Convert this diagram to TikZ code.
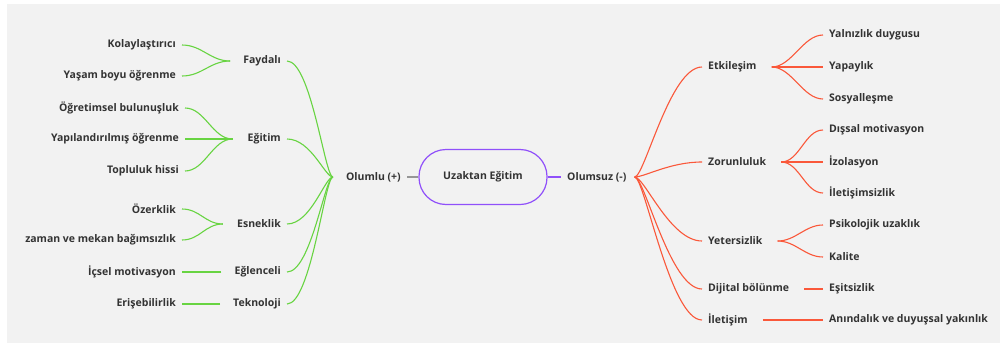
\documentclass[tikz,border=0pt]{standalone}
\usepackage{fontspec}
\setmainfont{Open Sans}
\usetikzlibrary{calc,positioning}
\definecolor{zemin}{RGB}{242,242,242}
\definecolor{yesil}{RGB}{104,212,66}
\definecolor{kirmizi}{RGB}{250,88,58}
\definecolor{mor}{RGB}{144,80,250}
\definecolor{yazi}{RGB}{51,51,51}
\definecolor{gri}{RGB}{150,150,150}

\begin{document}
\begin{tikzpicture}[x=1pt,y=-1pt,
    every node/.style={font=\bfseries\fontsize{10.5}{12.5}\selectfont,text=yazi,inner xsep=6pt,inner ysep=2pt},
    sol/.style={anchor=east},
    sag/.style={anchor=west},
    olumluhat/.style={draw=yesil,line width=1.1pt},
    olumsuzhat/.style={draw=kirmizi,line width=1.1pt}]

    %Zemin
    \fill[zemin] (7,4) rectangle (1000,343);
    \useasboundingbox (0,0) rectangle (1001,343);

    %Merkez
    \node[draw=mor,line width=1.2pt,rounded corners=27pt,minimum width=128pt,minimum height=55pt] (merkez) at (483,177) {Uzaktan Eğitim};
    \node[sol] (olumlu) at (407,177) {Olumlu (+)};
    \node[sag] (olumsuz) at (561,177) {Olumsuz (-)};
    \draw[gri,line width=1.1pt] (olumlu) -- (merkez);
    \draw[mor,line width=1.1pt] (merkez) -- (olumsuz);
    \coordinate (olumlu_j) at ($(olumlu.west)+(-7,0)$);
    \coordinate (olumsuz_j) at ($(olumsuz.east)+(2,0)$);

    %Olumlu dallar
    \node[sol] (faydali) at (287,61) {Faydalı};
    \node[sol] (egitim) at (287,139) {Eğitim};
    \node[sol] (esneklik) at (287,224) {Esneklik};
    \node[sol] (eglenceli) at (287,272) {Eğlenceli};
    \node[sol] (teknoloji) at (287,304) {Teknoloji};

    \draw[olumluhat] (olumlu_j) .. controls +(-8,0) and +(24,0) .. (faydali.east);
    \draw[olumluhat] (olumlu_j) .. controls +(-8,0) and +(24,0) .. (egitim.east);
    \draw[olumluhat] (olumlu_j) .. controls +(-8,0) and +(24,0) .. (esneklik.east);
    \draw[olumluhat] (olumlu_j) .. controls +(-8,0) and +(24,0) .. (eglenceli.east);
    \draw[olumluhat] (olumlu_j) .. controls +(-8,0) and +(24,0) .. (teknoloji.east);

    \coordinate (faydali_j) at ($(faydali.west)+(-7,0)$);
    \coordinate (egitim_j) at ($(egitim.west)+(-9,0)$);
    \coordinate (esneklik_j) at ($(esneklik.west)+(-8,0)$);
    \coordinate (eglenceli_j) at ($(eglenceli.west)+(-7,0)$);
    \coordinate (teknoloji_j) at ($(teknoloji.west)+(-7,0)$);

    %Olumlu alt dallar
    \node[sol] (kolay) at (182,45) {Kolaylaştırıcı};
    \node[sol] (yasam) at (182,76) {Yaşam boyu öğrenme};
    \node[sol] (ogretimsel) at (185,108) {Öğretimsel bulunuşluk};
    \node[sol] (yapilandirilmis) at (185,139) {Yapılandırılmış öğrenme};
    \node[sol] (topluluk) at (185,171) {Topluluk hissi};
    \node[sol] (ozerklik) at (182,209) {Özerklik};
    \node[sol] (zaman) at (182,240) {zaman ve mekan bağımsızlık};
    \node[sol] (icsel) at (182,272) {İçsel motivasyon};
    \node[sol] (erisebilirlik) at (182,304) {Erişebilirlik};

    \draw[olumluhat] (faydali_j) .. controls +(-20,0) and +(20,0) .. (kolay.east);
    \draw[olumluhat] (faydali_j) .. controls +(-20,0) and +(20,0) .. (yasam.east);
    \draw[olumluhat] (egitim_j) .. controls +(-20,0) and +(20,0) .. (ogretimsel.east);
    \draw[olumluhat] (egitim_j) -- (yapilandirilmis.east);
    \draw[olumluhat] (egitim_j) .. controls +(-20,0) and +(20,0) .. (topluluk.east);
    \draw[olumluhat] (esneklik_j) .. controls +(-18,0) and +(18,0) .. (ozerklik.east);
    \draw[olumluhat] (esneklik_j) .. controls +(-18,0) and +(18,0) .. (zaman.east);
    \draw[olumluhat] (eglenceli_j) -- (icsel.east);
    \draw[olumluhat] (teknoloji_j) -- (erisebilirlik.east);

    %Olumsuz dallar
    \node[sag] (etkilesim) at (702,67) {Etkileşim};
    \node[sag] (zorunluluk) at (702,162) {Zorunluluk};
    \node[sag] (yetersizlik) at (702,241) {Yetersizlik};
    \node[sag] (dijital) at (702,289) {Dijital bölünme};
    \node[sag] (iletisim) at (702,320) {İletişim};

    \draw[olumsuzhat] (olumsuz_j) .. controls +(10,0) and +(-32,0) .. (etkilesim.west);
    \draw[olumsuzhat] (olumsuz_j) .. controls +(10,0) and +(-32,0) .. (zorunluluk.west);
    \draw[olumsuzhat] (olumsuz_j) .. controls +(10,0) and +(-32,0) .. (yetersizlik.west);
    \draw[olumsuzhat] (olumsuz_j) .. controls +(10,0) and +(-32,0) .. (dijital.west);
    \draw[olumsuzhat] (olumsuz_j) .. controls +(10,0) and +(-32,0) .. (iletisim.west);

    \coordinate (etkilesim_j) at ($(etkilesim.east)+(9,0)$);
    \coordinate (zorunluluk_j) at ($(zorunluluk.east)+(9,0)$);
    \coordinate (yetersizlik_j) at ($(yetersizlik.east)+(9,0)$);
    \coordinate (dijital_j) at ($(dijital.east)+(9,0)$);
    \coordinate (iletisim_j) at ($(iletisim.east)+(9,0)$);

    %Olumsuz alt dallar
    \node[sag] (yalnizlik) at (823,35) {Yalnızlık duygusu};
    \node[sag] (yapaylik) at (823,67) {Yapaylık};
    \node[sag] (sosyallesme) at (823,99) {Sosyalleşme};
    \node[sag] (dissal) at (823,130) {Dışsal motivasyon};
    \node[sag] (izolasyon) at (823,162) {İzolasyon};
    \node[sag] (iletisimsizlik) at (823,193) {İletişimsizlik};
    \node[sag] (psikolojik) at (823,225) {Psikolojik uzaklık};
    \node[sag] (kalite) at (823,257) {Kalite};
    \node[sag] (esitsizlik) at (823,289) {Eşitsizlik};
    \node[sag] (anindalik) at (823,320) {Anındalık ve duyuşsal yakınlık};

    \draw[olumsuzhat] (etkilesim_j) .. controls +(20,0) and +(-20,0) .. (yalnizlik.west);
    \draw[olumsuzhat] (etkilesim_j) -- (yapaylik.west);
    \draw[olumsuzhat] (etkilesim_j) .. controls +(20,0) and +(-20,0) .. (sosyallesme.west);
    \draw[olumsuzhat] (zorunluluk_j) .. controls +(18,0) and +(-18,0) .. (dissal.west);
    \draw[olumsuzhat] (zorunluluk_j) -- (izolasyon.west);
    \draw[olumsuzhat] (zorunluluk_j) .. controls +(18,0) and +(-18,0) .. (iletisimsizlik.west);
    \draw[olumsuzhat] (yetersizlik_j) .. controls +(18,0) and +(-18,0) .. (psikolojik.west);
    \draw[olumsuzhat] (yetersizlik_j) .. controls +(18,0) and +(-18,0) .. (kalite.west);
    \draw[olumsuzhat] (dijital_j) -- (esitsizlik.west);
    \draw[olumsuzhat] (iletisim_j) -- (anindalik.west);

\end{tikzpicture}
\end{document}
